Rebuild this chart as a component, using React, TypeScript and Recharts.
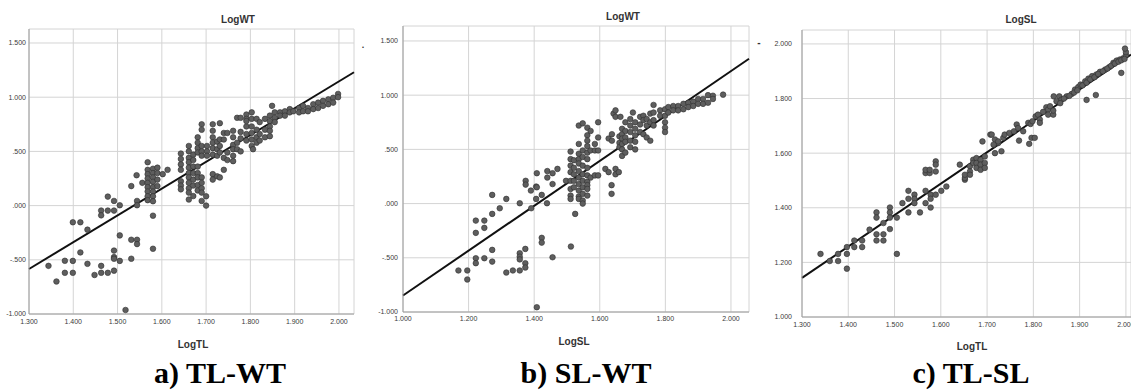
import { ScatterChart, Scatter, XAxis, YAxis, CartesianGrid, ReferenceLine } from "recharts"

// a) LogTL vs LogWT
const tlWt: [number, number][] = [
  [1.344, -0.556], [1.362, -0.7], [1.381, -0.509], [1.381, -0.62], [1.399, -0.51], [1.399, -0.62], [1.399, -0.154],
  [1.416, -0.154], [1.416, -0.432], [1.432, -0.222], [1.432, -0.537], [1.448, -0.64], [1.463, -0.556], [1.463, -0.62],
  [1.463, -0.046], [1.463, -0.09], [1.478, 0.083], [1.478, -0.046], [1.478, -0.62], [1.492, 0.043], [1.492, -0.046],
  [1.492, -0.415], [1.492, -0.475], [1.492, -0.49], [1.492, -0.6], [1.505, 0.003], [1.505, -0.275], [1.505, -0.51],
  [1.518, -0.963], [1.531, 0.18], [1.531, -0.315], [1.531, -0.49], [1.544, 0.043], [1.544, 0.003], [1.544, -0.315],
  [1.544, -0.355], [1.556, 0.21], [1.543, 0.28],
  [1.568, 0.4], [1.568, 0.33], [1.568, 0.29], [1.568, 0.25], [1.568, 0.21], [1.568, 0.17], [1.568, 0.13], [1.568, 0.086], [1.568, 0.05],
  [1.58, 0.34], [1.58, 0.3], [1.58, 0.26], [1.58, 0.22], [1.58, 0.17], [1.58, 0.13], [1.58, 0.086], [1.58, 0.04], [1.58, -0.093], [1.58, -0.398],
  [1.59, 0.35], [1.59, 0.3], [1.59, 0.24], [1.59, 0.18], [1.602, 0.29], [1.613, 0.33],
  [1.643, 0.48], [1.643, 0.43], [1.643, 0.38], [1.643, 0.33], [1.643, 0.225], [1.643, 0.185], [1.643, 0.15],
  [1.661, 0.55], [1.661, 0.5], [1.661, 0.44], [1.661, 0.4], [1.661, 0.35], [1.661, 0.3], [1.661, 0.26], [1.661, 0.21], [1.661, 0.16], [1.661, 0.12], [1.661, 0.056],
  [1.671, 0.47], [1.671, 0.42], [1.671, 0.36], [1.671, 0.3], [1.671, 0.24], [1.671, 0.185], [1.671, 0.088],
  [1.681, 0.63], [1.681, 0.58], [1.681, 0.53], [1.681, 0.49], [1.681, 0.36], [1.681, 0.3], [1.681, 0.26], [1.681, 0.19], [1.681, 0.14],
  [1.69, 0.75], [1.69, 0.7], [1.69, 0.55], [1.69, 0.5], [1.69, 0.46], [1.69, 0.26], [1.69, 0.21], [1.69, 0.16], [1.69, 0.12], [1.69, 0.043],
  [1.7, 0.086], [1.7, 0.0], [1.702, 0.55], [1.702, 0.5], [1.702, 0.46],
  [1.715, 0.75], [1.715, 0.69], [1.715, 0.63], [1.715, 0.58], [1.715, 0.53], [1.715, 0.47], [1.715, 0.29], [1.715, 0.24],
  [1.725, 0.59], [1.725, 0.52], [1.725, 0.46], [1.725, 0.27],
  [1.731, 0.76], [1.731, 0.61], [1.731, 0.55], [1.731, 0.49], [1.731, 0.26],
  [1.74, 0.67], [1.74, 0.61], [1.74, 0.44], [1.74, 0.33], [1.748, 0.67], [1.748, 0.49], [1.748, 0.42],
  [1.761, 0.69], [1.761, 0.63], [1.761, 0.56], [1.761, 0.52], [1.761, 0.46], [1.761, 0.41],
  [1.77, 0.81], [1.77, 0.58], [1.77, 0.52], [1.778, 0.81], [1.778, 0.68], [1.778, 0.62], [1.778, 0.5],
  [1.791, 0.84], [1.791, 0.8], [1.791, 0.73], [1.791, 0.78], [1.791, 0.66], [1.791, 0.6],
  [1.803, 0.86], [1.803, 0.8], [1.803, 0.73], [1.803, 0.67], [1.803, 0.61], [1.803, 0.55], [1.806, 0.52],
  [1.814, 0.8], [1.814, 0.7], [1.814, 0.63], [1.814, 0.58], [1.821, 0.77], [1.821, 0.66], [1.821, 0.6],
  [1.833, 0.8], [1.833, 0.7], [1.833, 0.63], [1.844, 0.83], [1.844, 0.78], [1.844, 0.73], [1.844, 0.69], [1.844, 0.64],
  [1.849, 0.92], [1.855, 0.86], [1.855, 0.81], [1.855, 0.77],
  [1.867, 0.86], [1.867, 0.83], [1.878, 0.87], [1.878, 0.83], [1.889, 0.89], [1.889, 0.86], [1.897, 0.87],
  [1.91, 0.9], [1.91, 0.86], [1.919, 0.92], [1.919, 0.87], [1.93, 0.9], [1.93, 0.87], [1.942, 0.935], [1.942, 0.89],
  [1.953, 0.95], [1.953, 0.9], [1.964, 0.966], [1.964, 0.92], [1.976, 0.98], [1.976, 0.935], [1.987, 0.995],
  [1.987, 0.95], [1.998, 1.03], [1.998, 1.0],
]

// b) LogSL vs LogWT
const slWt: [number, number][] = [
  [1.169, -0.617], [1.196, -0.617], [1.196, -0.7], [1.222, -0.157], [1.222, -0.27], [1.222, -0.504], [1.222, -0.55],
  [1.248, -0.157], [1.248, -0.224], [1.248, -0.504], [1.272, 0.08], [1.272, -0.095], [1.272, -0.427], [1.272, -0.535],
  [1.295, -0.043], [1.315, 0.043], [1.315, -0.636], [1.335, -0.617], [1.356, 0.003], [1.356, -0.458], [1.356, -0.49],
  [1.356, -0.515], [1.356, -0.617], [1.373, -0.418], [1.373, -0.55], [1.373, -0.59], [1.39, 0.12], [1.391, -0.043],
  [1.406, 0.157], [1.406, 0.043], [1.408, -0.956], [1.423, 0.08], [1.423, -0.316], [1.423, -0.36], [1.439, 0.003],
  [1.456, -0.495], [1.456, 0.18], [1.374, 0.21], [1.374, 0.175], [1.408, 0.28], [1.408, 0.15], [1.44, 0.3],
  [1.44, 0.24], [1.456, 0.28], [1.471, 0.32], [1.497, 0.21], [1.512, -0.396], [1.525, -0.095], [1.636, 0.17], [1.636, 0.09],
  [1.511, 0.48], [1.511, 0.41], [1.511, 0.35], [1.511, 0.29], [1.511, 0.21], [1.511, 0.135], [1.511, 0.074], [1.511, 0.043],
  [1.521, 0.4], [1.521, 0.33], [1.521, 0.27], [1.521, 0.21], [1.521, 0.15],
  [1.536, 0.72], [1.536, 0.55], [1.536, 0.46], [1.536, 0.41], [1.536, 0.37], [1.536, 0.3], [1.536, 0.24], [1.536, 0.18], [1.536, 0.12], [1.536, 0.065], [1.536, 0.043],
  [1.548, 0.74], [1.548, 0.49], [1.548, 0.43], [1.548, 0.35], [1.548, 0.27], [1.548, 0.21], [1.548, 0.15], [1.548, 0.09], [1.548, 0.028], [1.548, 0.0],
  [1.562, 0.7], [1.562, 0.63], [1.562, 0.58], [1.562, 0.53], [1.562, 0.47], [1.562, 0.41], [1.562, 0.33], [1.562, 0.26], [1.562, 0.2], [1.562, 0.17], [1.562, 0.135], [1.562, 0.074],
  [1.572, 0.67], [1.572, 0.49], [1.572, 0.24], [1.585, 0.55], [1.585, 0.49], [1.585, 0.26],
  [1.595, 0.75], [1.595, 0.61], [1.595, 0.49], [1.595, 0.26],
  [1.617, 0.32], [1.627, 0.6], [1.627, 0.29], [1.637, 0.64], [1.637, 0.58], [1.642, 0.83], [1.648, 0.86], [1.648, 0.8],
  [1.648, 0.32], [1.648, 0.27], [1.658, 0.29], [1.66, 0.62], [1.66, 0.56], [1.66, 0.52],
  [1.663, 0.8], [1.668, 0.69], [1.668, 0.64], [1.668, 0.6], [1.668, 0.55], [1.668, 0.5], [1.668, 0.44],
  [1.678, 0.75], [1.678, 0.67], [1.678, 0.61], [1.678, 0.57], [1.678, 0.47],
  [1.693, 0.78], [1.693, 0.72], [1.693, 0.66], [1.693, 0.58], [1.693, 0.52], [1.701, 0.84],
  [1.708, 0.75], [1.708, 0.69], [1.708, 0.63], [1.708, 0.57], [1.708, 0.5],
  [1.723, 0.8], [1.723, 0.73], [1.723, 0.66], [1.733, 0.81], [1.733, 0.77], [1.733, 0.64],
  [1.743, 0.78], [1.743, 0.72], [1.743, 0.61], [1.754, 0.83], [1.754, 0.75], [1.754, 0.58],
  [1.764, 0.91], [1.764, 0.84], [1.764, 0.77], [1.764, 0.72], [1.784, 0.86], [1.784, 0.81],
  [1.799, 0.87], [1.799, 0.81], [1.799, 0.75], [1.799, 0.7], [1.799, 0.66],
  [1.809, 0.89], [1.809, 0.84], [1.824, 0.9], [1.824, 0.86], [1.839, 0.9], [1.839, 0.86], [1.855, 0.92], [1.855, 0.87],
  [1.87, 0.93], [1.87, 0.89], [1.885, 0.94], [1.885, 0.9], [1.9, 0.965], [1.9, 0.92], [1.915, 0.965], [1.915, 0.92],
  [1.93, 1.0], [1.93, 0.93], [1.945, 0.995], [1.945, 0.965], [1.976, 1.005],
]

// c) LogTL vs LogSL
const tlSl: [number, number][] = [
  [1.34, 1.231], [1.36, 1.205], [1.378, 1.231], [1.378, 1.205], [1.397, 1.256], [1.397, 1.231], [1.397, 1.177],
  [1.413, 1.28], [1.413, 1.256], [1.43, 1.28], [1.43, 1.256], [1.446, 1.32], [1.461, 1.383], [1.461, 1.364],
  [1.461, 1.303], [1.461, 1.28], [1.476, 1.344], [1.476, 1.303], [1.476, 1.28], [1.49, 1.401], [1.49, 1.383],
  [1.49, 1.364], [1.49, 1.322], [1.505, 1.364], [1.505, 1.231], [1.517, 1.417], [1.53, 1.462], [1.53, 1.433],
  [1.53, 1.383], [1.543, 1.448], [1.543, 1.433], [1.543, 1.417], [1.555, 1.383], [1.567, 1.462], [1.567, 1.417],
  [1.578, 1.448], [1.578, 1.433], [1.578, 1.401], [1.589, 1.448], [1.601, 1.462], [1.612, 1.478], [1.652, 1.503],
  [1.567, 1.527], [1.576, 1.527], [1.567, 1.539], [1.576, 1.539], [1.589, 1.57], [1.589, 1.558], [1.589, 1.533],
  [1.641, 1.558], [1.652, 1.509], [1.652, 1.521], [1.663, 1.552], [1.663, 1.533], [1.663, 1.521], [1.67, 1.576],
  [1.67, 1.564], [1.677, 1.582], [1.677, 1.564], [1.677, 1.546], [1.686, 1.576], [1.686, 1.558], [1.686, 1.539],
  [1.69, 1.643], [1.695, 1.588], [1.695, 1.564], [1.695, 1.546], [1.707, 1.668], [1.717, 1.6], [1.724, 1.637],
  [1.71, 1.668], [1.717, 1.65], [1.724, 1.643], [1.714, 1.631], [1.731, 1.607], [1.735, 1.656], [1.738, 1.668],
  [1.748, 1.674], [1.758, 1.68], [1.764, 1.705], [1.767, 1.692], [1.769, 1.646], [1.778, 1.68], [1.789, 1.711],
  [1.794, 1.707], [1.798, 1.717], [1.791, 1.634], [1.796, 1.656], [1.803, 1.656], [1.805, 1.735], [1.81, 1.741],
  [1.814, 1.723], [1.814, 1.711], [1.821, 1.751], [1.828, 1.768], [1.832, 1.76], [1.836, 1.772], [1.832, 1.741],
  [1.843, 1.741], [1.843, 1.756], [1.844, 1.808], [1.856, 1.808],
  [1.85, 1.79], [1.861, 1.796], [1.872, 1.808], [1.883, 1.817], [1.89, 1.833], [1.897, 1.842], [1.902, 1.851],
  [1.912, 1.863], [1.919, 1.873], [1.927, 1.882], [1.936, 1.888], [1.944, 1.898], [1.955, 1.906], [1.964, 1.915],
  [1.973, 1.931], [1.98, 1.939], [1.987, 1.943], [1.994, 1.947], [2.0, 1.959],
  [1.858, 1.783], [1.866, 1.8], [1.878, 1.81], [1.888, 1.822], [1.895, 1.83], [1.906, 1.848], [1.915, 1.858],
  [1.923, 1.87], [1.932, 1.878], [1.94, 1.89], [1.95, 1.9], [1.96, 1.91], [1.968, 1.92], [1.976, 1.928],
  [1.984, 1.935], [1.99, 1.94], [1.997, 1.945], [2.0, 1.97],
  [1.915, 1.795], [1.935, 1.813], [1.99, 1.894], [1.998, 1.983],
]

// fit line end points (x, y)
const fitA: [number, number][] = [[1.3, -0.585], [2.034, 1.23]]
const fitB: [number, number][] = [[1.0, -0.848], [2.055, 1.336]]
const fitC: [number, number][] = [[1.3, 1.143], [2.011, 1.961]]

const ticksTL = [1.3, 1.4, 1.5, 1.6, 1.7, 1.8, 1.9, 2.0]
const ticksSL = [1.0, 1.2, 1.4, 1.6, 1.8, 2.0]
const ticksWT = [-1.0, -0.5, 0, 0.5, 1.0, 1.5]
const ticksSLy = [1.0, 1.2, 1.4, 1.6, 1.8, 2.0]

// SPSS style labels: ".500", "-1.000"
const fmt = (v: number) => v.toFixed(3).replace(/^(-?)0\./, "$1.")

const Dot = (p: any) => (
  <circle cx={p.cx} cy={p.cy} r={2.8} fill="#5e5e5e" stroke="#2f2f2f" strokeWidth={0.6} />
)

const sans = "'Liberation Sans', Arial, sans-serif"
const tickStyle = { fontSize: 7, fill: "#3a3a3a", stroke: "none", fontFamily: sans }

type PanelProps = {
  left: number
  width: number
  plot: { left: number; top: number; right: number; bottom: number }
  data: [number, number][]
  fit: [number, number][]
  xDomain: [number, number]
  xTicks: number[]
  yDomain: [number, number]
  yTicks: number[]
  yGap: number
  xGap: number
}

function Panel({ left, width, plot, data, fit, xDomain, xTicks, yDomain, yTicks, yGap, xGap }: PanelProps) {
  const points = data.map(([x, y]) => ({ x, y }))
  return (
    <div style={{ position: "absolute", left, top: 0, width, height: 390 }}>
      <ScatterChart
        width={width}
        height={390}
        margin={{ top: plot.top, right: width - plot.right, bottom: 390 - plot.bottom - 20, left: 0 }}
      >
        <CartesianGrid stroke="#d4d4d4" strokeWidth={1} />
        <XAxis
          type="number"
          dataKey="x"
          domain={xDomain}
          ticks={xTicks}
          tickFormatter={fmt}
          height={20}
          tickSize={0}
          tickMargin={xGap}
          interval={0}
          allowDataOverflow
          axisLine={{ stroke: "#9c9c9c" }}
          tick={tickStyle}
        />
        <YAxis
          type="number"
          dataKey="y"
          domain={yDomain}
          ticks={yTicks}
          tickFormatter={fmt}
          width={plot.left}
          tickSize={0}
          tickMargin={yGap}
          interval={0}
          allowDataOverflow
          axisLine={{ stroke: "#9c9c9c" }}
          tick={tickStyle}
        />
        <Scatter data={points} shape={Dot} isAnimationActive={false} />
        <ReferenceLine
          segment={[{ x: fit[0][0], y: fit[0][1] }, { x: fit[1][0], y: fit[1][1] }]}
          stroke="#111"
          strokeWidth={2}
          ifOverflow="visible"
        />
      </ScatterChart>
    </div>
  )
}

function Txt({ x, y, size, children, serif }: { x: number; y: number; size: number; children: string; serif?: boolean }) {
  return (
    <div
      style={{
        position: "absolute",
        left: x,
        top: y,
        transform: "translateX(-50%)",
        whiteSpace: "nowrap",
        fontFamily: serif ? "'Liberation Serif', 'Times New Roman', serif" : sans,
        fontWeight: "bold",
        fontSize: size,
        lineHeight: `${size}px`,
        color: serif ? "#000" : "#333",
      }}
    >
      {children}
    </div>
  )
}

export default function App() {
  return (
    <div style={{ position: "absolute", left: 0, top: 0, width: 1131, height: 390, overflow: "hidden", background: "#fff" }}>
      <Panel
        left={0}
        width={377}
        plot={{ left: 29, top: 29, right: 354, bottom: 314 }}
        data={tlWt}
        fit={fitA}
        xDomain={[1.3, 2.034]}
        xTicks={ticksTL}
        yDomain={[-1, 1.629]}
        yTicks={ticksWT}
        yGap={3}
        xGap={5}
      />
      <Panel
        left={377}
        width={377}
        plot={{ left: 26, top: 26, right: 372, bottom: 312 }}
        data={slWt}
        fit={fitB}
        xDomain={[1.0, 2.055]}
        xTicks={ticksSL}
        yDomain={[-1, 1.638]}
        yTicks={ticksWT}
        yGap={5}
        xGap={4}
      />
      <Panel
        left={754}
        width={392}
        plot={{ left: 48, top: 30, right: 377, bottom: 317 }}
        data={tlSl}
        fit={fitC}
        xDomain={[1.3, 2.011]}
        xTicks={ticksTL}
        yDomain={[1.0, 2.051]}
        yTicks={ticksSLy}
        yGap={10}
        xGap={5}
      />
      <Txt x={238} y={15} size={10}>LogWT</Txt>
      <Txt x={193} y={340} size={10}>LogTL</Txt>
      <Txt x={220} y={358} size={30} serif>a) TL-WT</Txt>
      <Txt x={623} y={12} size={10}>LogWT</Txt>
      <Txt x={574} y={337} size={10}>LogSL</Txt>
      <Txt x={586} y={358} size={30} serif>b) SL-WT</Txt>
      <Txt x={1021} y={15} size={10}>LogSL</Txt>
      <Txt x={972} y={342} size={10}>LogTL</Txt>
      <Txt x={971} y={358} size={30} serif>c) TL-SL</Txt>
      <Txt x={363} y={41} size={9}>.</Txt>
      <Txt x={759} y={38} size={10}>-</Txt>
    </div>
  )
}
